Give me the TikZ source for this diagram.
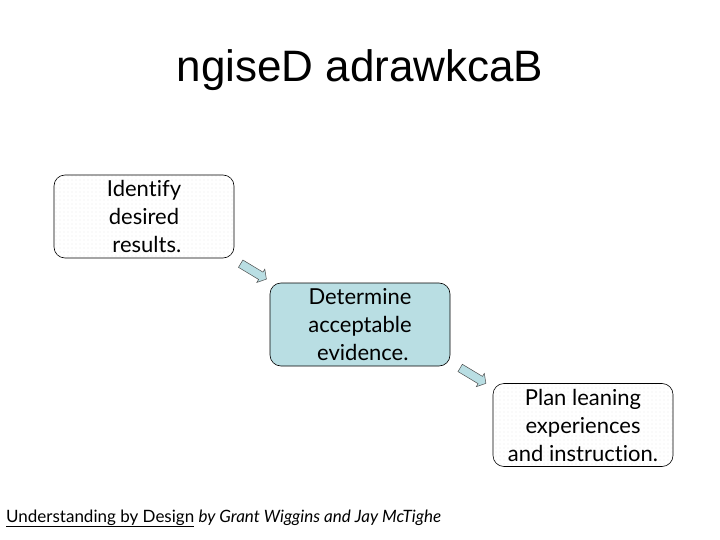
\documentclass[tikz,border=0pt]{standalone}
\usepackage{fontspec}
\setmainfont[Ligatures={NoCommon}]{Lato}
\newfontfamily\titlefont{Liberation Sans}
\usetikzlibrary{shapes.arrows,patterns.meta,calc}
\definecolor{boxblue}{HTML}{B9DEE3}
\definecolor{dotgray}{HTML}{CCCCCC}
\tikzdeclarepattern{
  name=sparsedots,
  type=uncolored,
  bottom left={(-.5pt,-.5pt)},
  top right={(3.5pt,3.5pt)},
  tile size={(4pt,4pt)},
  code={\fill (0,0) circle (0.45pt);}
}
\begin{document}
\begin{tikzpicture}[x=1pt,y=-1pt,
  stepbox/.style={draw=black, line width=0.6pt, rounded corners=11pt,
    minimum width=180pt, minimum height=83pt, inner sep=0pt,
    align=center, font=\fontsize{22}{28}\selectfont},
  dotbox/.style={stepbox, pattern={sparsedots}, pattern color=dotgray},
  bluebox/.style={stepbox, fill=boxblue},
  blockarrow/.style={single arrow, draw=black!70, fill=boxblue, line width=0.5pt,
    minimum height=30pt, minimum width=15pt, single arrow head extend=3.5pt,
    single arrow tip angle=100, inner xsep=0pt, inner ysep=4pt, rotate=-31}
]
\useasboundingbox (0,0) rectangle (720,540);
\fill[white] (0,0) rectangle (720,540);
\node[font=\titlefont\fontsize{44}{50}\selectfont] (title) at (360,70) {ngiseD adrawkcaB};
\node[dotbox] (b1) at (144,216.5) {Identify\\desired\\\ results.};
\node[bluebox] (b2) at (360,324.5) {Determine\\acceptable\\\ evidence.};
\node[dotbox] (b3) at (583,425) {Plan leaning\\experiences\\and instruction.};
\node[blockarrow] (a1) at ($(b1.south east)!0.5!(b2.north west)$) {};
\node[blockarrow] (a2) at ($(b2.south east)!0.5!(b3.north west)$) {};
\node[anchor=base west, font=\fontsize{17}{20}\selectfont, inner sep=0pt] (cap) at (6,522)
  {\underline{Understanding by Design} \textit{by Grant Wiggins and Jay McTighe}};
\end{tikzpicture}
\end{document}
